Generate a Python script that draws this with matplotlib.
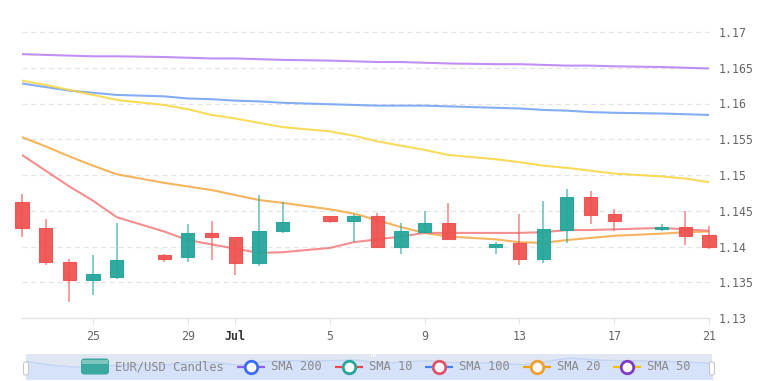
import matplotlib
matplotlib.use("Agg")
import matplotlib.pyplot as plt
import numpy as np
import pandas as pd
from matplotlib.patches import FancyBboxPatch, Rectangle
from matplotlib.lines import Line2D

# ---------------- data ----------------
dates = ["2020-06-22", "2020-06-23", "2020-06-24", "2020-06-25", "2020-06-26",
         "2020-06-28", "2020-06-29", "2020-06-30", "2020-07-01", "2020-07-02",
         "2020-07-03", "2020-07-05", "2020-07-06", "2020-07-07", "2020-07-08",
         "2020-07-09", "2020-07-10", "2020-07-12", "2020-07-13", "2020-07-14",
         "2020-07-15", "2020-07-16", "2020-07-17", "2020-07-19", "2020-07-20",
         "2020-07-21"]
opens = [1.1462, 1.1426, 1.1379, 1.1353, 1.1357, 1.1388, 1.1385, 1.1419, 1.1413, 1.1377,
         1.1421, 1.1442, 1.1436, 1.1442, 1.1400, 1.1420, 1.1433, 1.1400, 1.1405, 1.1383,
         1.1423, 1.1469, 1.1445, 1.1424, 1.1427, 1.1416]
highs = [1.1474, 1.1438, 1.1382, 1.1388, 1.1433, 1.1389, 1.1431, 1.1436, 1.1413, 1.1472,
         1.1462, 1.1442, 1.1446, 1.1447, 1.1433, 1.1449, 1.1461, 1.1406, 1.1446, 1.1463,
         1.1481, 1.1477, 1.1453, 1.1431, 1.1449, 1.1428]
lows = [1.1413, 1.1374, 1.1323, 1.1332, 1.1355, 1.1379, 1.1379, 1.1381, 1.1360, 1.1373,
        1.1419, 1.1433, 1.1406, 1.1398, 1.1390, 1.1419, 1.1410, 1.1389, 1.1374, 1.1377,
        1.1405, 1.1431, 1.1422, 1.1422, 1.1402, 1.1397]
closes = [1.1426, 1.1378, 1.1353, 1.1362, 1.1381, 1.1383, 1.1419, 1.1413, 1.1377, 1.1422,
          1.1434, 1.1436, 1.1442, 1.1400, 1.1421, 1.1433, 1.1410, 1.1404, 1.1383, 1.1424,
          1.1469, 1.1444, 1.1435, 1.1427, 1.1415, 1.1400]

sma10 = [1.1528, 1.1506, 1.1484, 1.1464, 1.1441, 1.1421, 1.1409, 1.1403, 1.1397, 1.1391,
         1.1392, 1.1398, 1.1406, 1.1410, 1.1414, 1.1419, 1.1419, 1.1419, 1.1419, 1.1420,
         1.1423, 1.1423, 1.1424, 1.1426, 1.1424, 1.1422]
sma20 = [1.1553, 1.1540, 1.1526, 1.1513, 1.1501, 1.1489, 1.1484, 1.1479, 1.1472, 1.1465,
         1.1461, 1.1452, 1.1446, 1.1437, 1.1427, 1.1419, 1.1414, 1.1410, 1.1406, 1.1405,
         1.1409, 1.1412, 1.1415, 1.1418, 1.1420, 1.1421]
sma50 = [1.1632, 1.1626, 1.1619, 1.1612, 1.1605, 1.1598, 1.1592, 1.1584, 1.1579, 1.1573,
         1.1567, 1.1561, 1.1555, 1.1547, 1.1541, 1.1535, 1.1528, 1.1522, 1.1518, 1.1513,
         1.1510, 1.1506, 1.1502, 1.1498, 1.1495, 1.1490]
sma100 = [1.1628, 1.1623, 1.1618, 1.1615, 1.1612, 1.1610, 1.1607, 1.1606, 1.1604, 1.1603,
          1.1601, 1.1599, 1.1598, 1.1597, 1.1597, 1.1597, 1.1596, 1.1594, 1.1593, 1.1591,
          1.1590, 1.1588, 1.1587, 1.1586, 1.1585, 1.1584]
sma200 = [1.1669, 1.1668, 1.1667, 1.1666, 1.1666, 1.1665, 1.1664, 1.1663, 1.1663, 1.1662,
          1.1661, 1.1660, 1.1659, 1.1658, 1.1658, 1.1657, 1.1656, 1.1655, 1.1655, 1.1654,
          1.1653, 1.1653, 1.1652, 1.1651, 1.1650, 1.1649]

tick_dates = ["2020-06-25", "2020-06-29", "2020-07-01", "2020-07-05", "2020-07-09",
              "2020-07-13", "2020-07-17", "2020-07-21"]
tick_labels = ["25", "29", "Jul", "5", "9", "13", "17", "21"]
y_ticks = [1.13, 1.135, 1.14, 1.145, 1.15, 1.155, 1.16, 1.165, 1.17]
y_tick_labels = ["1.13", "1.135", "1.14", "1.145", "1.15", "1.155", "1.16", "1.165", "1.17"]

legend_labels = ["EUR/USD Candles", "SMA 200", "SMA 10", "SMA 100", "SMA 20", "SMA 50"]

# ---------------- styles ----------------
UP = "#26a69a"
DOWN = "#ef5350"
C_SMA10 = "#f47a7a"
C_SMA20 = "#f5a742"
C_SMA50 = "#f7d63c"
C_SMA100 = "#6f9ff5"
C_SMA200 = "#b57cf7"
FONT = "DejaVu Sans Mono"

W, H = 770, 381
fig = plt.figure(figsize=(W / 100, H / 100), dpi=100)
fig.patch.set_facecolor("white")

start = pd.Timestamp(dates[0])
x = np.array([(pd.Timestamp(d) - start).days for d in dates], dtype=float)
xt = np.array([(pd.Timestamp(d) - start).days for d in tick_dates], dtype=float)

ax = fig.add_axes([22 / W, 63 / H, 687 / W, 286 / H])
ax.set_xlim(0, 29)
ax.set_ylim(1.13, 1.17)
for s in ["top", "right", "left"]:
    ax.spines[s].set_visible(False)
ax.spines["bottom"].set_color("#e3e3e3")
ax.spines["bottom"].set_linewidth(1.0)

for yv in y_ticks[1:]:
    ax.axhline(yv, color="#e4e4e4", lw=0.9, ls=(0, (4, 3)), zorder=0, clip_on=False)

# SMA lines
for vals, col in [(sma200, C_SMA200), (sma100, C_SMA100), (sma50, C_SMA50),
                  (sma20, C_SMA20), (sma10, C_SMA10)]:
    ax.plot(x, vals, color=col, lw=1.5, alpha=0.85, zorder=2, solid_capstyle="round")

# candles
o = np.array(opens); c = np.array(closes); h = np.array(highs); l = np.array(lows)
up = c >= o
cols = np.where(up, UP, DOWN)
ax.vlines(x, l, h, colors=cols, lw=1.3, alpha=0.6, zorder=3, clip_on=False)
body_bottom = np.minimum(o, c)
body_h = np.maximum(np.abs(c - o), 0.00008)
ax.bar(x, body_h, bottom=body_bottom, width=0.56, color=cols, edgecolor=cols,
       linewidth=0.8, zorder=4, clip_on=False, alpha=0.95)

ax.set_xticks(xt)
ax.set_xticklabels(tick_labels)
ax.tick_params(axis="x", length=4, color="#e3e3e3", labelsize=8.4, labelcolor="#666666", pad=5)
for lab in ax.get_xticklabels():
    lab.set_fontfamily(FONT)
    if lab.get_text() == "Jul":
        lab.set_fontweight("bold")
        lab.set_color("#333333")

ax.yaxis.tick_right()
ax.set_yticks(y_ticks)
ax.set_yticklabels(y_tick_labels)
ax.tick_params(axis="y", length=0, labelsize=8.4, labelcolor="#666666", pad=7)
for lab in ax.get_yticklabels():
    lab.set_fontfamily(FONT)

# ---------------- navigator ----------------
nav = fig.add_axes([26 / W, 2 / H, 686 / W, 25 / H])
nav.set_facecolor("#e0e6f2")
nav.set_xlim(0, 29)
nav.set_ylim(1.120, 1.152)
nav.plot(x, closes, color="#c3d4f5", lw=1.0, zorder=2)
nav.fill_between(x, closes, 1.120, color="#d5e2fa", zorder=1)
nav.set_xticks([]); nav.set_yticks([])
for s in nav.spines.values():
    s.set_visible(False)

# overlay (pixel coordinates for legend / handles)
ov = fig.add_axes([0, 0, 1, 1], zorder=10)
ov.set_xlim(0, W); ov.set_ylim(H, 0); ov.axis("off")
ov.patch.set_alpha(0)

for hx in (26, 712):
    ov.add_patch(FancyBboxPatch((hx - 2.5, 362), 5, 13, boxstyle="round,pad=0,rounding_size=2",
                                facecolor="white", edgecolor="#c8c8c8", lw=0.8))
# grip in middle of top bar
for gx in (371, 373, 375):
    ov.plot([gx, gx], [353, 356], color="white", lw=0.6)

ly = 366.5
# candles swatch
ov.add_patch(FancyBboxPatch((81, 358.5), 28, 16, boxstyle="round,pad=0,rounding_size=3",
                            facecolor="#3ba99f", edgecolor="none"))
ov.add_patch(Rectangle((82, 359.5), 26, 4, facecolor="#8fcfc8", edgecolor="none", alpha=0.8))
ov.text(115, ly, legend_labels[0], fontsize=8.7, family=FONT, color="#8a8a8a",
        va="center", ha="left")

items = [  # (line start x, line colour, marker colour, text x)
    (237, "#8a5cf0", "#3b6cf5", 271),
    (335, "#ef4444", "#26a69a", 369),
    (425, "#3b82f6", "#e0526a", 459),
    (523, "#f59e0b", "#f0a030", 557),
    (613, "#f2c500", "#7e3bc4", 647),
]
for (lx, lc, mc, tx), lab in zip(items, legend_labels[1:]):
    ov.plot([lx, lx + 28], [ly, ly], color=lc, lw=1.6, solid_capstyle="butt")
    ov.plot([lx + 14], [ly], marker="o", ms=9, mfc="white", mec=mc, mew=2.0)
    ov.text(tx, ly, lab, fontsize=8.7, family=FONT, color="#8a8a8a", va="center", ha="left")

fig.savefig("out.png", dpi=100, facecolor="white")
